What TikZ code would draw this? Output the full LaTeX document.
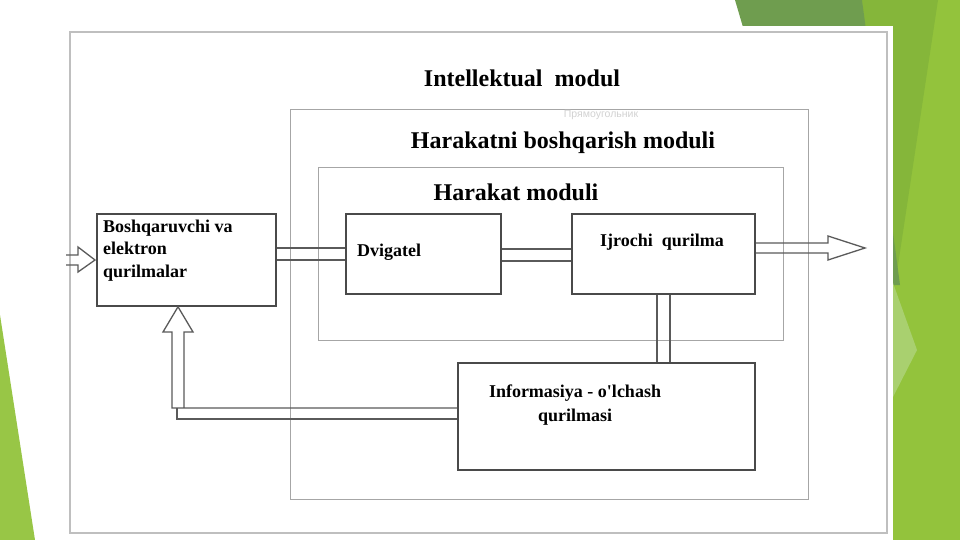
\documentclass[tikz,border=0pt]{standalone}
\usepackage{fontspec}
\setmainfont{Liberation Serif}
\newfontfamily\cyrfont{Liberation Sans}
\usepackage{tikz}
\usetikzlibrary{calc}
\usepackage{xcolor}

\definecolor{slidedark}{HTML}{6F9D4F}
\definecolor{slidemid}{HTML}{85B63A}
\definecolor{slidelime}{HTML}{93C33C}
\definecolor{slidepale}{HTML}{A9D06F}
\definecolor{boxgray}{HTML}{4A4A4A}
\definecolor{pipegray}{HTML}{5A5A5A}

\begin{document}
\begin{tikzpicture}[
    x=1pt, y=-1pt,
    frame line/.style={draw=gray!50, line width=1.3pt},
    module/.style={draw=gray!70, line width=1pt, inner sep=0pt},
    block/.style={draw=boxgray, line width=1.6pt, fill=white, inner sep=0pt},
    pipe/.style={draw=pipegray, line width=1.3pt, line join=miter},
    title/.style={font=\fontsize{24}{28}\selectfont\bfseries, inner sep=0pt},
    txt/.style={font=\fontsize{18}{22.5}\selectfont\bfseries, inner sep=0pt},
]
\useasboundingbox (0,0) rectangle (960,540);

% === Slide background ===
\fill[white] (0,0) rectangle (960,540);
\fill[slidelime] (850,0) rectangle (960,540);
\fill[slidemid] (862,0) -- (938,0) -- (895,285) -- (893,285) -- cycle;
\fill[slidedark] (735,0) -- (862,0) -- (900,285) -- (819,285) -- cycle;
\fill[slidepale] (893,283) -- (917,350) -- (893,397) -- cycle;
\fill[slidelime!95!white] (0,315) -- (35,540) -- (0,540) -- cycle;

% === Scanned sheet ===
\fill[white] (66,26) rectangle (893,540);
\draw[frame line] (70,32) rectangle (887,533);

% === Modules ===
\node[module, minimum width=518pt, minimum height=389pt] (hbm) at (549,304.5) {};
\node[module, minimum width=465pt, minimum height=172pt] (hm) at (550.5,254) {};

\node[title] (tint) at (522,78) {Intellektual\ \ modul};
\node[title] (thbm) at (563,143) {Harakatni boshqarish moduli};
\node[title] (thm) at (516,192) {Harakat moduli};
\node[font=\cyrfont\fontsize{10.5}{12}\selectfont, text=gray!35] (tcyr) at (601,115) {Прямоугольник};

% === Connectors ===
\coordinate (in) at (66,260);
\draw[pipe] (in |- 0,255) -- (78,255) -- (78,247) -- (95,260) -- (78,272) -- (78,265) -- (in |- 0,265);

\node[block, minimum width=179pt, minimum height=92pt] (bosh) at (186.5,260) {};
\node[block, minimum width=155pt, minimum height=80pt] (dvig) at (423.5,254) {};
\node[block, minimum width=183pt, minimum height=80pt] (ijro) at (663.5,254) {};
\node[block, minimum width=297pt, minimum height=107pt] (info) at (606.5,416.5) {};

\draw[pipe] (bosh.east |- 0,248) -- (dvig.west |- 0,248);
\draw[pipe] (bosh.east |- 0,260) -- (dvig.west |- 0,260);
\draw[pipe] (dvig.east |- 0,249) -- (ijro.west |- 0,249);
\draw[pipe] (dvig.east |- 0,261) -- (ijro.west |- 0,261);

\draw[pipe] (ijro.east |- 0,243) -- (828,243) -- (828,236) -- (865,248) -- (828,260) -- (828,253) -- (ijro.east |- 0,253);

\draw[pipe] (ijro.south -| 657,0) -- (info.north -| 657,0);
\draw[pipe] (ijro.south -| 670,0) -- (info.north -| 670,0);

% --- feedback to bosh
\draw[pipe] (184,408) -- (184,332) -- (193,332) -- (bosh.south -| 178,0) -- (163,332) -- (172,332) -- (172,408) -- (info.west |- 0,408);
\draw[pipe] (177,408) -- (177,419) -- (info.west |- 0,419);

% === Block texts ===
\node[txt, align=left, anchor=west] (tbosh) at (103,250.5) {Boshqaruvchi va\\elektron\\qurilmalar};
\node[txt, anchor=west] (tdvig) at (357,252) {Dvigatel};
\node[txt] (tijro) at (662,242) {Ijrochi\ \ qurilma};
\node[txt, align=center, font=\fontsize{18}{24}\selectfont\bfseries] (tinfo) at (575,405) {Informasiya - o\textquotesingle lchash\\qurilmasi};

\end{tikzpicture}
\end{document}
